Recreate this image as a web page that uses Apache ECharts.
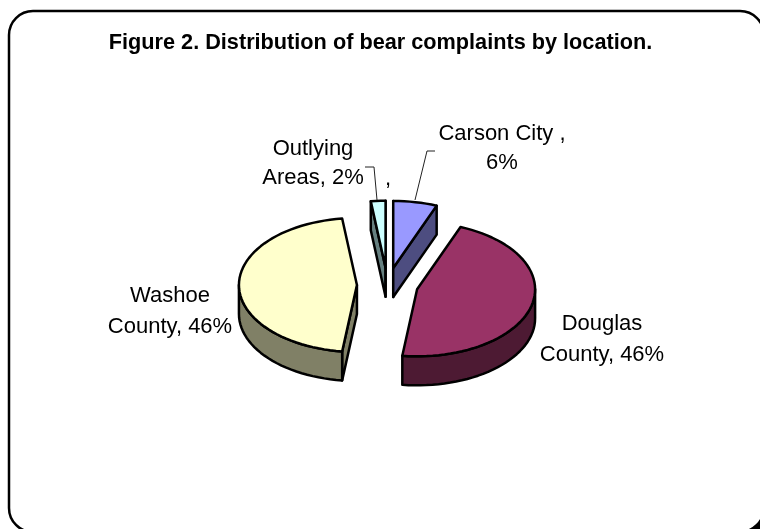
<!DOCTYPE html>
<html>
<head>
<meta charset="utf-8">
<style>
  html, body { margin: 0; padding: 0; background: #fff; }
  #main { width: 760px; height: 529px; }
</style>
<script src="https://cdn.jsdelivr.net/npm/echarts@6/dist/echarts.min.js"></script>
</head>
<body>
<div id="main"></div>
<script>
var titleText = "Figure 2. Distribution of bear complaints by location.";
var categories = ["Carson City", "Douglas County", "Washoe County", "Outlying Areas"];
var percents = [6, 46, 46, 2];
var topColors = ["#9999ff", "#993366", "#ffffcc", "#ccffff"];
var sideColors = ["#4d4d80", "#4d1a33", "#808066", "#668080"];

// label lines sit where the original chart placed them by hand
var labelLines = [
  [["Carson City ,", 502, 134], ["6%", 502, 163]],
  [["Douglas", 602, 324], ["County, 46%", 602, 355]],
  [["Washoe", 170, 296], ["County, 46%", 170, 327]],
  [["Outlying", 313, 149], ["Areas, 2%", 313, 178], [",", 388, 179]]
];
var leaderLines = [
  [[435, 151], [427, 151], [415, 200]],
  null,
  null,
  [[365, 167], [374, 167], [377, 200]]
];

var pie = { cx: 387.5, cy: 285, rx: 118, ry: 67, depth: 29, explode: 0.259 };
var total = percents.reduce(function (a, b) { return a + b; }, 0);
var FONT = '"Liberation Sans", Arial, sans-serif';

function rad(d) { return d * Math.PI / 180; }

function renderSlice(params, api) {
  var i = params.dataIndex;
  var start = 0;
  for (var k = 0; k < i; k++) start += percents[k] / total * 360;
  var end = start + api.value(1) / total * 360;
  var mid = rad((start + end) / 2);
  var ox = pie.cx + pie.explode * pie.rx * Math.sin(mid);
  var oy = pie.cy - pie.explode * pie.ry * Math.cos(mid);

  function pt(deg, drop) {
    return [ox + pie.rx * Math.sin(rad(deg)), oy - pie.ry * Math.cos(rad(deg)) + (drop || 0)];
  }
  function arc(a, b, drop) {
    var pts = [];
    var n = Math.max(2, Math.ceil(Math.abs(b - a) / 3));
    for (var j = 0; j <= n; j++) pts.push(pt(a + (b - a) * j / n, drop));
    return pts;
  }
  function poly(points, fill) {
    return {
      type: "polygon",
      shape: { points: points },
      style: { fill: fill, stroke: "#000", lineWidth: 2.5, lineJoin: "round" }
    };
  }

  var children = [];
  var side = sideColors[i];
  var apex = [ox, oy];
  var apexLow = [ox, oy + pie.depth];
  // radial faces turned to the viewer
  if (Math.sin(rad(start)) < 0.001) {
    children.push(poly([apex, pt(start), pt(start, pie.depth), apexLow], side));
  }
  if (Math.sin(rad(end)) > -0.001) {
    children.push(poly([apex, pt(end), pt(end, pie.depth), apexLow], side));
  }
  // outer wall, front half only
  var a = Math.max(start, 90);
  var b = Math.min(end, 270);
  if (b > a) {
    children.push(poly(arc(a, b, 0).concat(arc(b, a, pie.depth)), side));
  }
  children.push(poly([apex].concat(arc(start, end, 0)), topColors[i]));

  if (leaderLines[i]) {
    children.push({
      type: "polyline",
      shape: { points: leaderLines[i] },
      style: { fill: null, stroke: "#222", lineWidth: 1 }
    });
  }
  labelLines[i].forEach(function (l) {
    children.push({
      type: "text",
      style: {
        text: l[0], x: l[1], y: l[2], fill: "#000",
        font: "22px " + FONT, align: "center", verticalAlign: "middle"
      }
    });
  });
  return { type: "group", children: children };
}

var chart = echarts.init(document.getElementById("main"), null, { renderer: "canvas" });
chart.setOption({
  animation: false,
  backgroundColor: "#fff",
  title: {
    text: titleText,
    left: 375.5,
    top: 27,
    textAlign: "center",
    textStyle: { color: "#000", fontFamily: FONT, fontWeight: "bold", fontSize: 21.7 }
  },
  graphic: [
    {
      // drop shadow of the chart area, only shows in the lower right corner
      type: "rect",
      z: -11,
      shape: { x: 13, y: 15, width: 755, height: 521, r: 24 },
      style: { fill: "#000" }
    },
    {
      type: "rect",
      z: -10,
      shape: { x: 9, y: 11, width: 755, height: 521, r: 24 },
      style: { fill: "#fff", stroke: "#000", lineWidth: 2.5 }
    }
  ],
  series: [{
    type: "custom",
    coordinateSystem: "none",
    renderItem: renderSlice,
    encode: { itemName: 0, value: 1 },
    data: categories.map(function (c, i) { return [c, percents[i]]; })
  }]
});
</script>
</body>
</html>
